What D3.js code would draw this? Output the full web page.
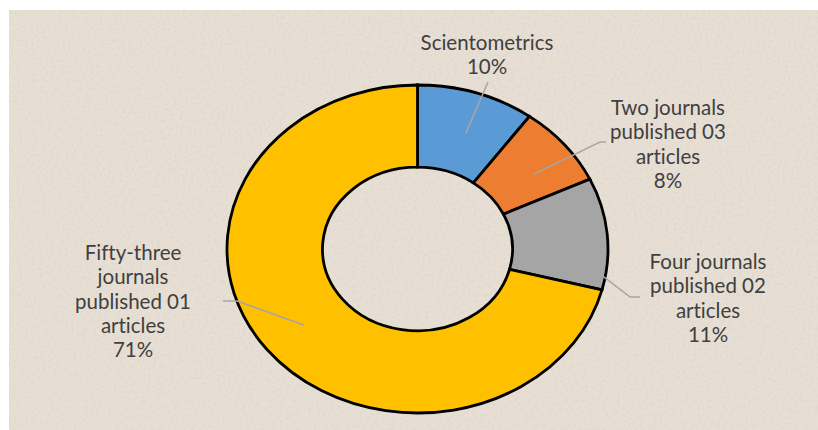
<!DOCTYPE html>
<html><head><meta charset="utf-8">
<script src="https://cdn.jsdelivr.net/npm/d3@7"></script>
<style>html,body{margin:0;padding:0;background:#fff;} text{font-variant-ligatures:none;font-feature-settings:"liga" 0;}</style>
</head><body>
<svg id="chart" width="818" height="430"></svg>
<script>
const categories = ["Scientometrics", "Two journals published 03 articles", "Four journals published 02 articles", "Fifty-three journals published 01 articles"];
const values = [10, 8, 11, 71];
const labelLines = [["Scientometrics", "10%"], ["Two journals", "published 03", "articles", "8%"], ["Four journals", "published 02", "articles", "11%"], ["Fifty-three", "journals", "published 01", "articles", "71%"]];
const colors = ["#5b9bd5", "#ed7d31", "#a5a5a5", "#ffc000"];

// layout
const cx = 417.5, cy = 249, R = 190.5, r0 = 95, ky = 164 / 190.5;
const labelPos = [[487, 43], [668, 108], [708, 262], [133, 253]];
const leader = [ // [radius, fraction of slice angle, elbow x, elbow y, end x]
  [143, 0.55, 488, 82, 488],
  [145, 0.6, 600, 142, 606],
  [188, 0.88, 630, 297, 640],
  [144, 0.5, 237, 301, 223]
];

const svg = d3.select("#chart");
const defs = svg.append("defs");
const f = defs.append("filter").attr("id", "tex").attr("x", 0).attr("y", 0).attr("width", "100%").attr("height", "100%");
f.append("feTurbulence").attr("type", "fractalNoise").attr("baseFrequency", 0.35).attr("numOctaves", 2).attr("seed", 4).attr("result", "n");
f.append("feColorMatrix").attr("in", "n").attr("type", "matrix")
 .attr("values", "0 0 0 0 0.55  0 0 0 0 0.5  0 0 0 0 0.45  0 0 0 -1.1 0.62").attr("result", "c");
f.append("feComposite").attr("in", "c").attr("in2", "SourceGraphic").attr("operator", "in");
svg.append("rect").attr("x", 9).attr("y", 10).attr("width", 809).attr("height", 420).attr("fill", "#e7dfd4");
svg.append("rect").attr("x", 9).attr("y", 10).attr("width", 809).attr("height", 420).attr("fill", "#e7dfd4").attr("filter", "url(#tex)").attr("opacity", 0.45);

const pie = d3.pie().sort(null).value(d => d);
const arcs = pie(values);
const arc = d3.arc().innerRadius(r0).outerRadius(R);

const g = svg.append("g").attr("transform", `translate(${cx},${cy}) scale(1,${ky})`);
g.selectAll("path.slice").data(arcs).join("path")
  .attr("class", "slice")
  .attr("d", arc)
  .attr("fill", (d, i) => colors[i])
  .attr("stroke", "#000")
  .attr("stroke-width", 2.8)
  .attr("vector-effect", "non-scaling-stroke");

const pt = (rad, ang) => [cx + rad * Math.sin(ang), cy - rad * Math.cos(ang) * ky];
svg.selectAll("path.leader").data(arcs).join("path")
  .attr("class", "leader")
  .attr("d", (d, i) => {
    const L = leader[i];
    const a = d.startAngle + (d.endAngle - d.startAngle) * L[1];
    const p = pt(L[0], a);
    return `M${p[0]},${p[1]}L${L[2]},${L[3]}L${L[4]},${L[3]}`;
  })
  .attr("fill", "none")
  .attr("stroke", "#a6a6a6")
  .attr("stroke-width", 1.5);

const lg = svg.selectAll("text.lbl").data(arcs).join("text")
  .attr("class", "lbl")
  .attr("text-anchor", "middle")
  .attr("font-family", "Lato, 'Open Sans', sans-serif")
  .attr("font-size", 20.5)
  .attr("fill", "#404040");
lg.each(function(d, i) {
  const t = d3.select(this);
  labelLines[i].forEach((line, j) => {
    t.append("tspan").attr("x", labelPos[i][0]).attr("y", labelPos[i][1] + j * 24.2).attr("dy", "0.35em").text(line);
  });
});
</script>
</body></html>
